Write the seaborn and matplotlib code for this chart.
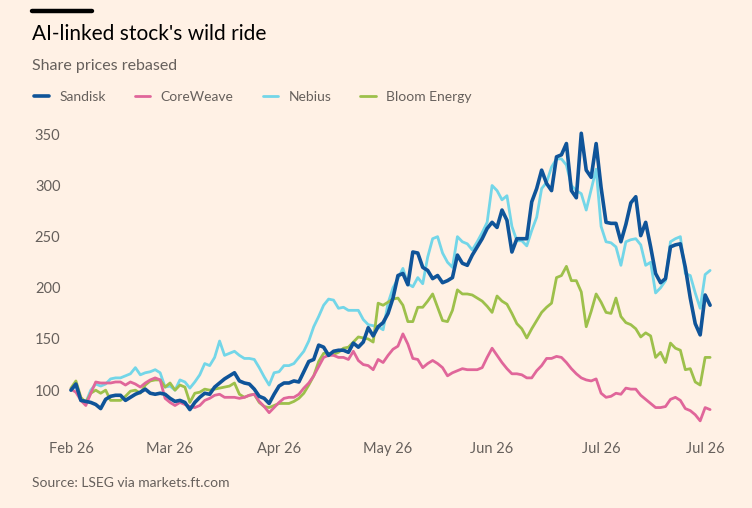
import matplotlib
matplotlib.use("Agg")
import matplotlib.pyplot as plt
import seaborn as sns
import numpy as np
import pandas as pd

# share prices rebased, one value per trading day (Feb 2 .. Jul 30)
sandisk = [100, 106, 90, 89, 88, 86, 82, 91, 94, 95, 95, 90, 93, 96, 98, 101, 97, 96, 97, 96,
           92, 89, 90, 88, 81, 88, 93, 97, 96, 103, 107, 111, 114, 117, 109, 107, 106, 101, 94, 92,
           87, 96, 104, 107, 107, 109, 108, 118, 128, 130, 144, 142, 134, 138, 139, 139, 137, 146, 142, 147,
           161, 153, 162, 166, 175, 190, 212, 214, 203, 235, 234, 220, 217, 209, 212, 205, 207, 210, 232, 224,
           222, 232, 240, 248, 258, 264, 259, 276, 266, 235, 248, 248, 248, 284, 297, 315, 302, 295, 328, 330,
           341, 295, 288, 351, 315, 308, 341, 298, 264, 263, 263, 245, 262, 283, 289, 251, 264, 240, 214, 205,
           209, 240, 242, 243, 220, 190, 165, 154, 193, 183]
coreweave = [101, 98, 90, 85, 97, 108, 107, 107, 107, 108, 108, 105, 108, 106, 103, 107, 110, 112, 110, 92,
             88, 85, 88, 86, 84, 83, 85, 90, 92, 95, 96, 93, 93, 93, 92, 93, 95, 96, 89, 84,
             78, 83, 88, 92, 93, 93, 96, 102, 107, 114, 123, 132, 134, 134, 132, 132, 130, 138, 129, 125,
             124, 120, 130, 127, 134, 140, 143, 155, 145, 131, 130, 122, 126, 129, 126, 122, 114, 117, 119, 121,
             120, 120, 120, 122, 132, 141, 134, 127, 121, 116, 116, 115, 112, 112, 119, 124, 131, 131, 133, 132,
             127, 121, 116, 112, 110, 109, 111, 97, 93, 94, 97, 96, 102, 101, 101, 95, 91, 87, 83, 83,
             84, 91, 93, 90, 82, 80, 76, 70, 83, 81]
nebius = [100, 104, 90, 88, 100, 106, 104, 106, 111, 112, 112, 114, 116, 122, 115, 117, 118, 120, 117, 103,
          104, 100, 110, 108, 102, 108, 115, 126, 124, 132, 148, 134, 136, 138, 134, 131, 131, 130, 122, 113,
          105, 117, 118, 124, 124, 126, 132, 138, 148, 162, 172, 183, 189, 188, 180, 181, 178, 178, 178, 169,
          164, 163, 162, 159, 185, 200, 209, 219, 204, 201, 210, 204, 230, 248, 250, 234, 225, 220, 250, 245,
          243, 237, 245, 254, 264, 300, 295, 286, 290, 260, 246, 246, 241, 256, 269, 297, 303, 318, 326, 326,
          320, 300, 295, 292, 276, 296, 316, 260, 245, 244, 240, 222, 245, 247, 248, 242, 222, 225, 195, 200,
          207, 245, 248, 250, 214, 212, 195, 180, 213, 217]
bloom = [102, 109, 93, 88, 97, 100, 97, 100, 90, 90, 90, 94, 99, 100, 97, 105, 109, 110, 110, 103,
         107, 100, 105, 103, 88, 97, 98, 101, 100, 101, 102, 103, 104, 107, 96, 93, 95, 96, 88, 84,
         83, 85, 87, 87, 87, 89, 92, 97, 105, 114, 128, 136, 136, 135, 137, 141, 142, 147, 152, 151,
         150, 147, 185, 183, 186, 189, 190, 183, 167, 167, 181, 181, 187, 194, 181, 168, 167, 178, 198, 194,
         194, 193, 190, 187, 182, 176, 192, 187, 184, 175, 165, 160, 151, 160, 168, 176, 181, 185, 210, 212,
         221, 207, 207, 196, 162, 177, 194, 186, 176, 175, 190, 172, 166, 164, 160, 152, 156, 153, 132, 137,
         127, 146, 141, 139, 120, 121, 108, 105, 132, 132]

stocks = ["Sandisk", "CoreWeave", "Nebius", "Bloom Energy"]
tick_days = [0, 20, 42, 64, 85, 107, 128]
tick_labels = ["Feb 26", "Mar 26", "Apr 26", "May 26", "Jun 26", "Jul 26", "Jul 26"]
y_ticks = [100, 150, 200, 250, 300, 350]

colors = {"Sandisk": "#0f5499", "CoreWeave": "#e0669a",
          "Nebius": "#73d6e8", "Bloom Energy": "#9dc04b"}
widths = {"Sandisk": 2.6, "CoreWeave": 2.0, "Nebius": 2.0, "Bloom Energy": 2.0}

values = {"Sandisk": sandisk, "CoreWeave": coreweave, "Nebius": nebius, "Bloom Energy": bloom}
df = pd.concat([pd.DataFrame({"day": np.arange(len(v)), "price": v, "stock": k})
                for k, v in values.items()], ignore_index=True)

bg = "#fff1e5"
grey = "#66605c"
sns.set_theme(style="white", rc={"figure.facecolor": bg, "axes.facecolor": bg})
plt.rcParams["font.family"] = ["Lato", "DejaVu Sans"]

fig = plt.figure(figsize=(7.52, 5.08), dpi=100)
ax = fig.add_axes([66 / 752, 1 - 427 / 508, 654 / 752, 307 / 508])

# draw order: lighter lines first, Sandisk on top
for z, name in enumerate(["Nebius", "Bloom Energy", "CoreWeave", "Sandisk"]):
    sns.lineplot(data=df[df.stock == name], x="day", y="price", color=colors[name],
                 linewidth=widths[name], label=name, ax=ax, zorder=3 + z)

ax.set_xlim(-1.0, 131.0)
ax.set_ylim(64, 364)
ax.set_xticks(tick_days)
ax.set_xticklabels(tick_labels)
ax.set_yticks(y_ticks)
ax.set_xlabel("")
ax.set_ylabel("")
ax.tick_params(axis="both", length=0, labelsize=10.5, labelcolor=grey)
ax.tick_params(axis="x", pad=11)
ax.tick_params(axis="y", pad=4)
for s in ax.spines.values():
    s.set_visible(False)

handles, labels = ax.get_legend_handles_labels()
order = [labels.index(s) for s in stocks]
ax.get_legend().remove()
fig.legend([handles[i] for i in order], stocks, loc="center left",
           bbox_to_anchor=(21 / 752, 1 - 97 / 508), ncol=4, frameon=False,
           fontsize=10, handlelength=1.1, handletextpad=0.75, columnspacing=2.1,
           labelcolor=grey)

fig.add_artist(plt.Line2D([32 / 752, 92 / 752], [1 - 11 / 508, 1 - 11 / 508],
                          color="black", linewidth=3.2, transform=fig.transFigure))
fig.text(32 / 752, 1 - 34 / 508, "AI-linked stock's wild ride", fontsize=15,
         color="#000000", va="center", ha="left")
fig.text(32 / 752, 1 - 66 / 508, "Share prices rebased", fontsize=11.5,
         color=grey, va="center", ha="left")
fig.text(32 / 752, 1 - 483 / 508, "Source: LSEG via markets.ft.com", fontsize=10,
         color=grey, va="center", ha="left")

fig.savefig("out.png", dpi=100, facecolor=bg)
